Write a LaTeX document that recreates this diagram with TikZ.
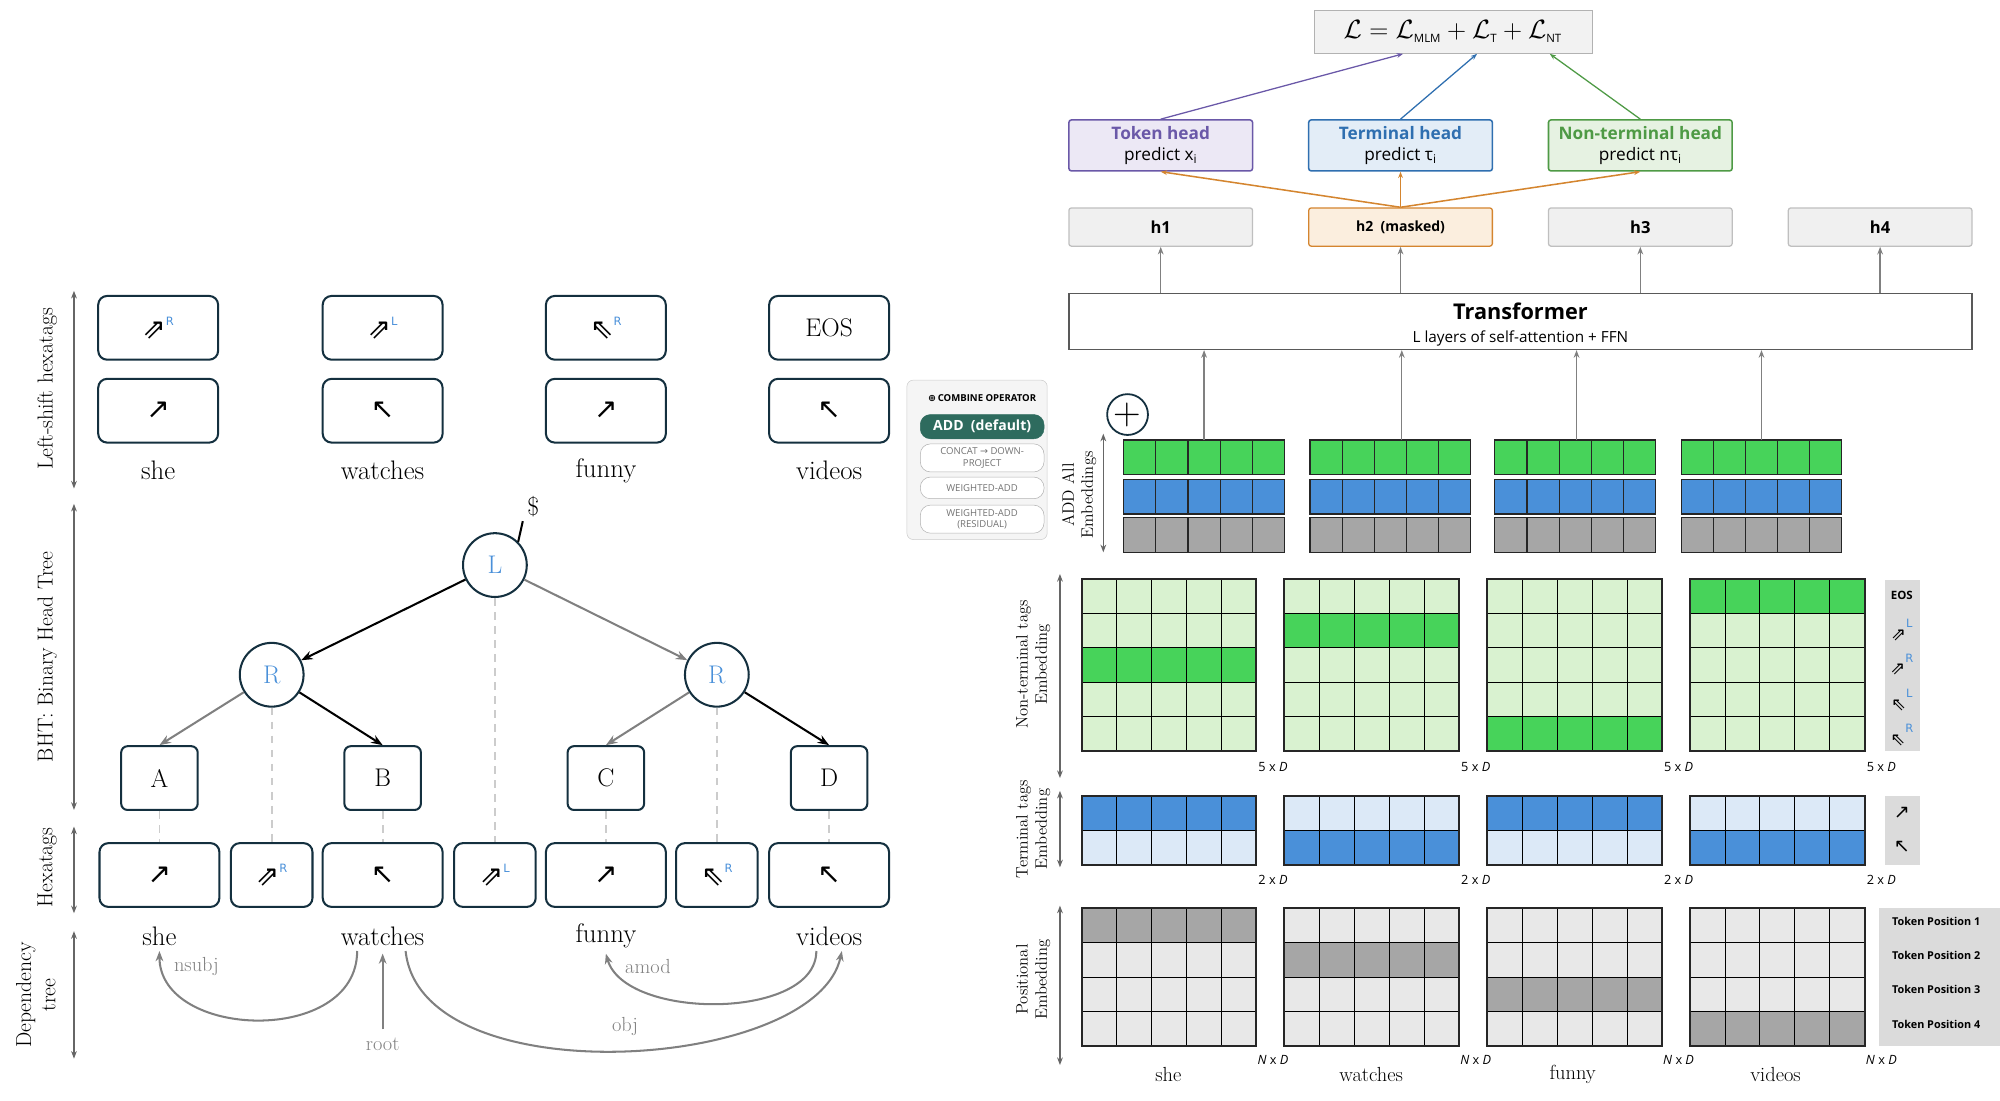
\documentclass[tikz,border=0pt]{standalone}
\usepackage{fontspec}
\usepackage{amsmath}
\newfontfamily\sans{Open Sans}
\newfontfamily\arr{DejaVu Sans}
\usetikzlibrary{arrows.meta}
\definecolor{nav}{HTML}{14303F}
\definecolor{ntdark}{HTML}{47D35A}\definecolor{ntlight}{HTML}{D9F2D0}
\definecolor{tdark}{HTML}{4A90D9}\definecolor{tlight}{HTML}{DCE9F7}
\definecolor{pdark}{HTML}{A6A6A6}\definecolor{plight}{HTML}{E8E8E8}
\definecolor{blueL}{HTML}{4A90D9}
\definecolor{purp}{HTML}{6A58A8}\definecolor{purpf}{HTML}{ECE8F5}
\definecolor{tblu}{HTML}{2F6FB0}\definecolor{tbluf}{HTML}{E3EDF7}
\definecolor{grn}{HTML}{4E9A45}\definecolor{grnf}{HTML}{E6F2E2}
\definecolor{org}{HTML}{D4852F}\definecolor{orgf}{HTML}{FBEEDE}
\definecolor{teal}{HTML}{2E6B5E}
\tikzset{
 tag/.style={draw=nav,line width=1.6pt,rounded corners=7pt,minimum height=50pt,inner sep=0pt,font=\arr\fontsize{22}{22}\selectfont},
 wide/.style={tag,minimum width=94pt},
 narrow/.style={tag,minimum width=64pt},
 word/.style={font=\fontsize{21}{21}\selectfont,inner sep=0pt},
 axis/.style={draw=gray!80!black,line width=1pt,{Stealth[length=6pt]}-{Stealth[length=6pt]}},
 axlab/.style={rotate=90,font=\fontsize{17}{19}\selectfont,align=center},
 circ/.style={circle,draw=nav,line width=1.6pt,minimum size=50pt,inner sep=0pt,font=\fontsize{20}{20}\selectfont,text=blueL},
 leaf/.style={draw=nav,line width=1.6pt,rounded corners=5pt,minimum width=60pt,minimum height=50pt,font=\fontsize{20}{20}\selectfont},
 blk/.style={line width=1.6pt,-{Stealth[length=9pt]}},
 gry/.style={line width=1.6pt,draw=gray,-{Stealth[length=9pt]}},
 dsh/.style={draw=gray!40,line width=1.4pt,dash pattern=on 6pt off 5pt},
 dep/.style={draw=gray,line width=1.6pt,-{Stealth[length=8pt]}},
 deplab/.style={text=gray,font=\fontsize{16}{16}\selectfont},
 head/.style={rounded corners=2pt,line width=1.2pt,minimum width=144pt,minimum height=40pt,align=center,font=\sans\fontsize{13.5}{17}\selectfont,inner sep=1pt},
 hbox/.style={rounded corners=2pt,line width=1pt,minimum width=144pt,minimum height=30pt,font=\sans\bfseries\fontsize{13}{13}\selectfont},
 up/.style={draw=gray,line width=1pt,-{Stealth[length=6pt]}},
 btn/.style={rounded corners=8pt,minimum width=97pt,draw=gray!60,fill=white,align=center,font=\sans\fontsize{7.5}{9}\selectfont,text=gray!90!black,inner sep=1pt},
 dim/.style={font=\sans\fontsize{10}{10}\selectfont,anchor=north},
 leg/.style={fill=gray!28},
}
\newcommand{\tg}[2]{#1\raisebox{10pt}{\fontsize{9}{9}\selectfont\textcolor{blueL}{#2}}}
\begin{document}
\begin{tikzpicture}[x=1pt,y=-1pt]
\useasboundingbox (0,0) rectangle (1568,863);
% ---------- left axes
\draw[axis] (58,228) -- (58,383);
\node[axlab] at (37,305) {Left-shift hexatags};
\draw[axis] (58,395) -- (58,635);
\node[axlab] at (37,515) {BHT: Binary Head Tree};
\draw[axis] (58,648) -- (58,716);
\node[axlab] at (37,680) {Hexatags};
\draw[axis] (58,730) -- (58,830);
\node[axlab] at (28,780) {Dependency\\tree};
% ---------- left-shift hexatags
\node[wide] (ls1) at (124,257) {\tg{⇗}{R}};
\node[wide] (ls2) at (300,257) {\tg{⇗}{L}};
\node[wide] (ls3) at (475,257) {\tg{⇖}{R}};
\node[wide,font=\fontsize{20}{20}\selectfont] (ls4) at (650,257) {EOS};
\node[wide] (lb1) at (124,322) {↗};
\node[wide] (lb2) at (300,322) {↖};
\node[wide] (lb3) at (475,322) {↗};
\node[wide] (lb4) at (650,322) {↖};
\node[word] (w1) at (124,369) {she};
\node[word] (w2) at (300,369) {watches};
\node[word] (w3) at (475,369) {funny};
\node[word] (w4) at (650,369) {videos};
% ---------- BHT
\node[circ] (L) at (388,443) {L};
\node[circ] (R1) at (213,529) {R};
\node[circ] (R2) at (562,529) {R};
\node[leaf] (A) at (125,610) {A};
\node[leaf] (B) at (300,610) {B};
\node[leaf] (C) at (475,610) {C};
\node[leaf] (D) at (650,610) {D};
\node[font=\fontsize{20}{20}\selectfont] (dol) at (418,397) {\$};
\draw[line width=1.6pt] (L.north east) -- (dol.south west);
\draw[blk] (L) -- (R1);
\draw[gry] (L) -- (R2);
\draw[gry] (R1) -- (A.north);
\draw[blk] (R1) -- (B.north);
\draw[gry] (R2) -- (C.north);
\draw[blk] (R2) -- (D.north);
% hexatags
\node[wide] (h1) at (125,686) {↗};
\node[narrow] (h2) at (213,686) {\tg{⇗}{R}};
\node[wide] (h3) at (300,686) {↖};
\node[narrow] (h4) at (388,686) {\tg{⇗}{L}};
\node[wide] (h5) at (475,686) {↗};
\node[narrow] (h6) at (562,686) {\tg{⇖}{R}};
\node[wide] (h7) at (650,686) {↖};
\draw[dsh] (L) -- (h4);
\draw[dsh] (R1) -- (h2);
\draw[dsh] (R2) -- (h6);
\draw[dsh] (A) -- (h1);
\draw[dsh] (B) -- (h3);
\draw[dsh] (C) -- (h5);
\draw[dsh] (D) -- (h7);
% dependency
\node[word] (d1) at (125,734) {she};
\node[word] (d2) at (300,734) {watches};
\node[word] (d3) at (475,734) {funny};
\node[word] (d4) at (650,734) {videos};
\coordinate (rootb) at (300,807);
\draw[dep] ([xshift=-20pt,yshift=-4pt]d2.south) .. controls (280,820) and (125,815) .. ([yshift=-4pt]d1.south);
\draw[dep] ([xshift=18pt,yshift=-4pt]d2.south) .. controls (330,860) and (640,840) .. ([xshift=10pt,yshift=-4pt]d4.south);
\draw[dep] ([xshift=-10pt,yshift=-4pt]d4.south) .. controls (640,800) and (490,800) .. ([yshift=-4pt]d3.south);
\draw[dep] (rootb) -- ([yshift=-6pt]d2.south);
\node[deplab] at (154,758) {nsubj};
\node[deplab] at (508,758) {amod};
\node[deplab] at (490,805) {obj};
\node[deplab] at (300,819) {root};
% ---------- right: loss & heads
\node[draw=gray!60,fill=gray!10,minimum width=218pt,minimum height=34pt,font=\fontsize{20}{20}\selectfont] (loss) at (1139,25)
 {$\mathcal{L}=\mathcal{L}_{\text{\sans\fontsize{9}{9}\selectfont MLM}}+\mathcal{L}_{\text{\sans\fontsize{9}{9}\selectfont T}}+\mathcal{L}_{\text{\sans\fontsize{9}{9}\selectfont NT}}$};
\node[head,draw=purp,fill=purpf] (th) at (910,114) {\textcolor{purp}{\bfseries Token head}\\predict x\textsubscript{i}};
\node[head,draw=tblu,fill=tbluf] (teh) at (1098,114) {\textcolor{tblu}{\bfseries Terminal head}\\predict τ\textsubscript{i}};
\node[head,draw=grn,fill=grnf] (nth) at (1286,114) {\textcolor{grn}{\bfseries Non-terminal head}\\predict nτ\textsubscript{i}};
\draw[draw=purp,line width=1pt,-{Stealth[length=5pt]}] (th.north) -- ([xshift=-39pt]loss.south);
\draw[draw=tblu,line width=1pt,-{Stealth[length=5pt]}] (teh.north) -- ([xshift=19pt]loss.south);
\draw[draw=grn,line width=1pt,-{Stealth[length=5pt]}] (nth.north) -- ([xshift=76pt]loss.south);
\node[hbox,draw=gray!50,fill=gray!12] (o1) at (910,178) {h1};
\node[hbox,draw=org,fill=orgf,font=\sans\bfseries\fontsize{11}{11}\selectfont] (o2) at (1098,178) {h2 \ (masked)};
\node[hbox,draw=gray!50,fill=gray!12] (o3) at (1286,178) {h3};
\node[hbox,draw=gray!50,fill=gray!12] (o4) at (1474,178) {h4};
\foreach \t in {th,teh,nth}{\draw[draw=org,line width=1.2pt,-{Stealth[length=5pt]}] (o2.north) -- (\t.south);}
\node[draw=gray!70!black,line width=1pt,minimum width=708pt,minimum height=44pt,inner sep=0pt] (tr) at (1192,252) {};
\node[font=\sans\bfseries\fontsize{17}{17}\selectfont] at (1192,244) {Transformer};
\node[font=\sans\fontsize{12}{12}\selectfont] at (1192,265) {L layers of self-attention + FFN};
\foreach \o in {o1,o2,o3,o4}{\draw[up] (tr.north -| \o) -- (\o.south);}
% ---------- combine operator
\node[draw=gray!40,fill=gray!8,rounded corners=5pt,minimum width=110pt,minimum height=125pt] (panel) at (766,360.5) {};
\node[font=\sans\bfseries\fontsize{7.5}{7.5}\selectfont] at (770,312) {{\arr ⊕}\,COMBINE OPERATOR};
\node[btn,fill=teal,draw=teal,text=white,font=\sans\bfseries\fontsize{11}{11}\selectfont,minimum height=19pt] (b1) at (770,334.5) {ADD \ (default)};
\node[btn,minimum height=22pt] (b2) at (770,359) {CONCAT {\arr →} DOWN-\\PROJECT};
\node[btn,minimum height=17pt] (b3) at (770,382.5) {WEIGHTED-ADD};
\node[btn,minimum height=22pt] (b4) at (770,407) {WEIGHTED-ADD\\(RESIDUAL)};
\node[circle,draw=nav,line width=1.4pt,minimum size=32pt,inner sep=0pt,font=\fontsize{30}{30}\selectfont] (plus) at (884,325) {+};
\draw[axis] (865,340) -- (865,433);
\node[axlab,font=\fontsize{13}{15}\selectfont] at (846,388) {ADD All\\Embeddings};
% stacks
\foreach \gx/\ax [count=\k] in {881/944,1027/1099,1172/1236,1318/1381}{
 \foreach \c in {0,...,4}{
  \draw[fill=ntdark,line width=.9pt,draw=gray!30!black] (\gx+\c*25.2,345) rectangle ++(25.2,27);
  \draw[fill=tdark,line width=.9pt,draw=gray!30!black] (\gx+\c*25.2,376) rectangle ++(25.2,27);
  \draw[fill=pdark,line width=.9pt,draw=gray!30!black] (\gx+\c*25.2,406) rectangle ++(25.2,27);
 }
 \coordinate (s\k) at (\ax,345);
 \draw[up] (s\k) -- (s\k |- tr.south);
}
% ---------- grids
\draw[axis] (831,450) -- (831,610);
\node[axlab,font=\fontsize{13}{15}\selectfont] at (810,521) {Non-terminal tags\\Embedding};
\draw[axis] (831,620) -- (831,680);
\node[axlab,font=\fontsize{13}{15}\selectfont] at (810,650) {Terminal tags\\Embedding};
\draw[axis] (831,710) -- (831,835);
\node[axlab,font=\fontsize{13}{15}\selectfont] at (810,768) {Positional\\Embedding};
\foreach \gx/\dk/\tk/\pk in {848/2/0/0,1007/1/1/1,1166/4/0/2,1325/0/1/3}{
 \foreach \r in {0,...,4}{
  \ifnum\r=\dk\def\fc{ntdark}\else\def\fc{ntlight}\fi
  \foreach \c in {0,...,4}{\draw[fill=\fc,line width=.8pt] (\gx+\c*27.4,454+\r*27) rectangle ++(27.4,27);}
 }
 \draw[line width=1.6pt,draw=gray!30!black] (\gx,454) rectangle ++(137,135);
 \node[dim] at (\gx+150,594) {5 x \textit{D}};
 \foreach \r in {0,1}{
  \ifnum\r=\tk\def\fc{tdark}\else\def\fc{tlight}\fi
  \foreach \c in {0,...,4}{\draw[fill=\fc,line width=.8pt] (\gx+\c*27.4,624+\r*27) rectangle ++(27.4,27);}
 }
 \draw[line width=1.6pt,draw=gray!30!black] (\gx,624) rectangle ++(137,54);
 \node[dim] at (\gx+150,683) {2 x \textit{D}};
 \foreach \r in {0,...,3}{
  \ifnum\r=\pk\def\fc{pdark}\else\def\fc{plight}\fi
  \foreach \c in {0,...,4}{\draw[fill=\fc,line width=.8pt] (\gx+\c*27.4,712+\r*27) rectangle ++(27.4,27);}
 }
 \draw[line width=1.6pt,draw=gray!30!black] (\gx,712) rectangle ++(137,108);
 \node[dim] at (\gx+150,824) {\textit{N} x \textit{D}};
}
\node[word,font=\fontsize{16}{16}\selectfont] at (916,842) {she};
\node[word,font=\fontsize{16}{16}\selectfont] at (1075,842) {watches};
\node[word,font=\fontsize{16}{16}\selectfont] at (1233,842) {funny};
\node[word,font=\fontsize{16}{16}\selectfont] at (1392,842) {videos};
% legends
\fill[leg] (1478,455) rectangle (1505,589);
\node[font=\sans\bfseries\fontsize{9}{9}\selectfont] at (1491,467) {EOS};
\begin{scope}[every node/.style={font=\arr\fontsize{14}{14}\selectfont}]
\node at (1491,494) {\tg{⇗}{L}};
\node at (1491,521) {\tg{⇗}{R}};
\node at (1491,549) {\tg{⇖}{L}};
\node at (1491,576) {\tg{⇖}{R}};
\end{scope}
\fill[leg] (1478,624) rectangle (1505,678);
\node[font=\arr\fontsize{15}{15}\selectfont] at (1491,637) {↗};
\node[font=\arr\fontsize{15}{15}\selectfont] at (1491,664) {↖};
\fill[leg] (1473,712) rectangle (1568,820);
\foreach \i in {1,...,4}{\node[font=\sans\bfseries\fontsize{8.5}{8.5}\selectfont] at (1518,695+\i*27) {Token Position \i};}
\end{tikzpicture}
\end{document}
